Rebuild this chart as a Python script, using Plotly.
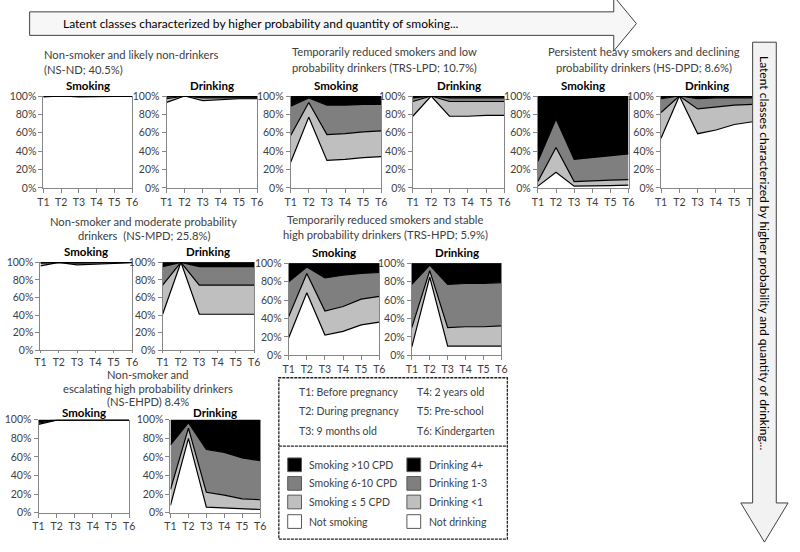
import plotly.graph_objects as go

W, H = 800, 552

times = ["T1", "T2", "T3", "T4", "T5", "T6"]
y_tick_vals = [0, 20, 40, 60, 80, 100]
y_tick_text = ["0%", "20%", "40%", "60%", "80%", "100%"]

# layer shares (%) per class, bottom to top: none, low, mid, high
ns_nd_smk_none = [99, 100, 99, 99.5, 99.5, 99.5]
ns_nd_smk_low = [0.5, 0, 0.5, 0.3, 0.3, 0.3]
ns_nd_smk_mid = [0.3, 0, 0.3, 0.1, 0.1, 0.1]
ns_nd_smk_high = [0.2, 0, 0.2, 0.1, 0.1, 0.1]
ns_nd_drk_none = [93, 100, 95, 96, 97, 97]
ns_nd_drk_low = [4, 0, 3, 2, 1.5, 1]
ns_nd_drk_mid = [2, 0, 1, 1, 0.5, 1]
ns_nd_drk_high = [1, 0, 1, 1, 1, 1]

trs_lpd_smk_none = [28, 77, 30, 31, 33, 34]
trs_lpd_smk_low = [29, 16, 28, 28, 28, 28]
trs_lpd_smk_mid = [32, 5, 32, 31, 30, 29]
trs_lpd_smk_high = [11, 2, 10, 10, 9, 9]
trs_lpd_drk_none = [78, 100, 78, 78, 79, 79]
trs_lpd_drk_low = [16, 0, 16, 16, 15, 15]
trs_lpd_drk_mid = [4, 0, 4, 4, 4, 4]
trs_lpd_drk_high = [2, 0, 2, 2, 2, 2]

hs_dpd_smk_none = [2, 17, 2, 2, 2.5, 3]
hs_dpd_smk_low = [5, 27, 5, 6, 6, 6]
hs_dpd_smk_mid = [22, 31, 24, 25, 26.5, 28]
hs_dpd_smk_high = [71, 25, 69, 67, 65, 63]
hs_dpd_drk_none = [54, 100, 59, 63, 69, 72]
hs_dpd_drk_low = [28, 0, 27, 25, 21, 19]
hs_dpd_drk_mid = [15, 0, 11, 10, 8, 7]
hs_dpd_drk_high = [3, 0, 3, 2, 2, 2]

ns_mpd_smk_none = [96, 100, 97, 98, 99, 99.5]
ns_mpd_smk_low = [3, 0, 2, 1.5, 0.7, 0.3]
ns_mpd_smk_mid = [0.7, 0, 0.7, 0.4, 0.2, 0.1]
ns_mpd_smk_high = [0.3, 0, 0.3, 0.1, 0.1, 0.1]
ns_mpd_drk_none = [41, 100, 41, 41, 41, 41]
ns_mpd_drk_low = [33, 0, 33, 33, 33, 33]
ns_mpd_drk_mid = [21, 0, 21, 21, 21, 21]
ns_mpd_drk_high = [5, 0, 5, 5, 5, 5]

trs_hpd_smk_none = [19, 68, 22, 26, 33, 36]
trs_hpd_smk_low = [23, 21, 26, 27, 28, 28]
trs_hpd_smk_mid = [38, 7, 36, 34, 28, 26]
trs_hpd_smk_high = [20, 4, 16, 13, 11, 10]
trs_hpd_drk_none = [9, 85, 10, 10, 10, 10]
trs_hpd_drk_low = [21, 7, 20, 21, 21, 22]
trs_hpd_drk_mid = [47, 6, 47, 47, 47, 47]
trs_hpd_drk_high = [23, 2, 23, 22, 22, 21]

ns_ehpd_smk_none = [95, 99.5, 100, 100, 100, 100]
ns_ehpd_smk_low = [1.5, 0.3, 0, 0, 0, 0]
ns_ehpd_smk_mid = [1.5, 0.1, 0, 0, 0, 0]
ns_ehpd_smk_high = [2, 0.1, 0, 0, 0, 0]
ns_ehpd_drk_none = [8, 80, 6, 5, 4, 3.5]
ns_ehpd_drk_low = [17, 11, 16, 14, 11, 10.5]
ns_ehpd_drk_mid = [48, 6, 46, 46, 44, 42]
ns_ehpd_drk_high = [27, 3, 32, 35, 41, 44]

layer_colors = ["#ffffff", "#bfbfbf", "#7f7f7f", "#000000"]

# panel: title, layers, box in px (x0, x1, ytop, ybottom), tick length
panels = [
    ("Smoking", [ns_nd_smk_none, ns_nd_smk_low, ns_nd_smk_mid, ns_nd_smk_high], (38, 128, 92, 186), 4),
    ("Drinking", [ns_nd_drk_none, ns_nd_drk_low, ns_nd_drk_mid, ns_nd_drk_high], (163, 255, 92, 186), 4),
    ("Smoking", [trs_lpd_smk_none, trs_lpd_smk_low, trs_lpd_smk_mid, trs_lpd_smk_high], (289, 381, 92, 186), 4),
    ("Drinking", [trs_lpd_drk_none, trs_lpd_drk_low, trs_lpd_drk_mid, trs_lpd_drk_high], (413, 506, 92, 186), 4),
    ("Smoking", [hs_dpd_smk_none, hs_dpd_smk_low, hs_dpd_smk_mid, hs_dpd_smk_high], (540, 632, 92, 186), 4),
    ("Drinking", [hs_dpd_drk_none, hs_dpd_drk_low, hs_dpd_drk_mid, hs_dpd_drk_high], (665, 758, 92, 186), 4),
    ("Smoking", [ns_mpd_smk_none, ns_mpd_smk_low, ns_mpd_smk_mid, ns_mpd_smk_high], (35, 128, 262, 352), 2),
    ("Drinking", [ns_mpd_drk_none, ns_mpd_drk_low, ns_mpd_drk_mid, ns_mpd_drk_high], (159, 252, 262, 352), 2),
    ("Smoking", [trs_hpd_smk_none, trs_hpd_smk_low, trs_hpd_smk_mid, trs_hpd_smk_high], (287, 379, 263, 357), 4),
    ("Drinking", [trs_hpd_drk_none, trs_hpd_drk_low, trs_hpd_drk_mid, trs_hpd_drk_high], (412, 503, 263, 357), 4),
    ("Smoking", [ns_ehpd_smk_none, ns_ehpd_smk_low, ns_ehpd_smk_mid, ns_ehpd_smk_high], (33, 125, 423, 518), 4),
    ("Drinking", [ns_ehpd_drk_none, ns_ehpd_drk_low, ns_ehpd_drk_mid, ns_ehpd_drk_high], (167, 258, 423, 518), 4),
]

# class titles: lines, x, line y positions, alignment
class_titles = [
    (["Non-smoker and likely non-drinkers", "(NS-ND; 40.5%)"], 37, [50, 65], "left"),
    (["Temporarily reduced smokers and low", "probability drinkers (TRS-LPD; 10.7%)"], 384, [47, 63], "center"),
    (["Persistent heavy smokers and declining", "probability drinkers (HS-DPD; 8.6%)"], 648, [47, 63], "center"),
    (["Non-smoker and moderate probability", "drinkers  (NS-MPD; 25.8%)"], 140, [220, 235], "center"),
    (["Temporarily reduced smokers and stable", "high probability drinkers (TRS-HPD; 5.9%)"], 385, [218, 234], "center"),
    (["Non-smoker and", "escalating high probability drinkers", "(NS-EHPD) 8.4%"], 144, [377, 391, 404], "center"),
]

time_labels = [("T1: Before pregnancy", 295, 395), ("T2: During pregnancy", 295, 414),
               ("T3: 9 months old", 295, 434), ("T4: 2 years old", 415, 395),
               ("T5: Pre-school", 415, 414), ("T6: Kindergarten", 415, 434)]
smk_legend = ["Smoking >10 CPD", "Smoking 6-10 CPD", "Smoking \u2264 5 CPD", "Not smoking"]
drk_legend = ["Drinking 4+", "Drinking 1-3", "Drinking <1", "Not drinking"]
legend_rows = [469, 488, 507, 527]

FONT = "Lato, 'Open Sans', sans-serif"
TXT = "#404040"


def px(x):
    return x / W


def py(y):
    return 1 - y / H


fig = go.Figure()
annotations = []
shapes = []

for i, (name, layers, box, tl) in enumerate(panels, start=1):
    x0, x1, yt, yb = box
    for vals, col in zip(layers, layer_colors):
        fig.add_trace(go.Scatter(
            x=times, y=vals, xaxis=f"x{i}", yaxis=f"y{i}",
            stackgroup=f"g{i}", groupnorm="percent", mode="lines",
            line=dict(color="#000000", width=1.2), fillcolor=col,
            showlegend=False, hoverinfo="skip"))
    fig.layout[f"xaxis{i}"] = dict(
        domain=[px(x0), px(x1)], anchor=f"y{i}", range=[0, 5], type="category",
        showline=True, linecolor="#868686", ticks="outside", ticklen=tl,
        tickcolor="#868686", showgrid=False, zeroline=False, fixedrange=True,
        tickfont=dict(size=10.5, color=TXT, family=FONT))
    fig.layout[f"yaxis{i}"] = dict(
        domain=[py(yb), py(yt)], anchor=f"x{i}", range=[0, 100],
        tickmode="array", tickvals=y_tick_vals, ticktext=y_tick_text,
        showline=True, mirror=True, linecolor="#868686", ticks="outside", ticklen=4,
        tickcolor="#868686", showgrid=False, zeroline=False, fixedrange=True,
        tickfont=dict(size=10.5, color=TXT, family=FONT))
    gap = 7 if yt > 400 else 11
    annotations.append(dict(
        text=f"<b>{name}</b>", x=px((x0 + x1) / 2), y=py(yt - gap), xref="paper", yref="paper",
        showarrow=False, font=dict(size=11.5, color="#000000", family=FONT),
        xanchor="center", yanchor="middle"))

for lines, x, ys, align in class_titles:
    for line, y in zip(lines, ys):
        annotations.append(dict(
            text=line, x=px(x), y=py(y), xref="paper", yref="paper", showarrow=False,
            xanchor="left" if align == "left" else "center", yanchor="middle",
            font=dict(size=11.2, color=TXT, family=FONT)))


# arrows
def path(points):
    return "M " + " L ".join(f"{px(a):.5f},{py(b):.5f}" for a, b in points) + " Z"


shapes.append(dict(type="path", xref="paper", yref="paper",
                   path=path([(24, 6), (617, 6), (617, -10), (640, 18), (617, 46), (617, 30), (24, 30)]),
                   fillcolor="#f7f7f7", line=dict(color="#404040", width=1), layer="above"))
shapes.append(dict(type="path", xref="paper", yref="paper",
                   path=path([(758, 37), (782, 37), (782, 508), (794, 508), (770, 548), (746, 508), (758, 508)]),
                   fillcolor="#f2f2f2", line=dict(color="#404040", width=1), layer="above"))
annotations.append(dict(
    text="Latent classes characterized by higher probability and quantity of smoking...",
    x=px(56), y=py(18), xref="paper", yref="paper", showarrow=False,
    xanchor="left", yanchor="middle", font=dict(size=12, color="#000000", family=FONT)))
annotations.append(dict(
    text="Latent classes characterized by higher probability and quantity of drinking...",
    x=px(770), y=py(253), xref="paper", yref="paper", showarrow=False, textangle=90,
    xanchor="center", yanchor="middle", font=dict(size=12, color="#000000", family=FONT)))

# legend box
dash = dict(color="#202020", width=1.3, dash="3px,1px")
shapes.append(dict(type="rect", xref="paper", yref="paper", x0=px(277), x1=px(509),
                   y0=py(545), y1=py(380), line=dash, fillcolor="rgba(0,0,0,0)"))
shapes.append(dict(type="line", xref="paper", yref="paper", x0=px(277), x1=px(509),
                   y0=py(450), y1=py(450), line=dash))

for text, x, y in time_labels:
    annotations.append(dict(text=text, x=px(x), y=py(y), xref="paper", yref="paper",
                            showarrow=False, xanchor="left", yanchor="middle",
                            font=dict(size=10.5, color=TXT, family=FONT)))

swatch_colors = ["#000000", "#7f7f7f", "#bfbfbf", "#ffffff"]
for row_y, col, s_txt, d_txt in zip(legend_rows, swatch_colors, smk_legend, drk_legend):
    for sx, lbl in ((286, s_txt), (407, d_txt)):
        shapes.append(dict(type="rect", xref="paper", yref="paper", x0=px(sx), x1=px(sx + 14),
                           y0=py(row_y + 7), y1=py(row_y - 7), fillcolor=col,
                           line=dict(color="#595959", width=1)))
        annotations.append(dict(text=lbl, x=px(sx + 20), y=py(row_y), xref="paper", yref="paper",
                                showarrow=False, xanchor="left", yanchor="middle",
                                font=dict(size=10.5, color=TXT, family=FONT)))

fig.update_layout(
    width=W, height=H, margin=dict(l=0, r=0, t=0, b=0),
    paper_bgcolor="white", plot_bgcolor="white",
    showlegend=False, annotations=annotations, shapes=shapes,
    font=dict(family=FONT, color=TXT))

fig.write_html("out.html", config={"displayModeBar": False},
               post_script="document.body.style.margin='0';document.body.style.padding='0';")
